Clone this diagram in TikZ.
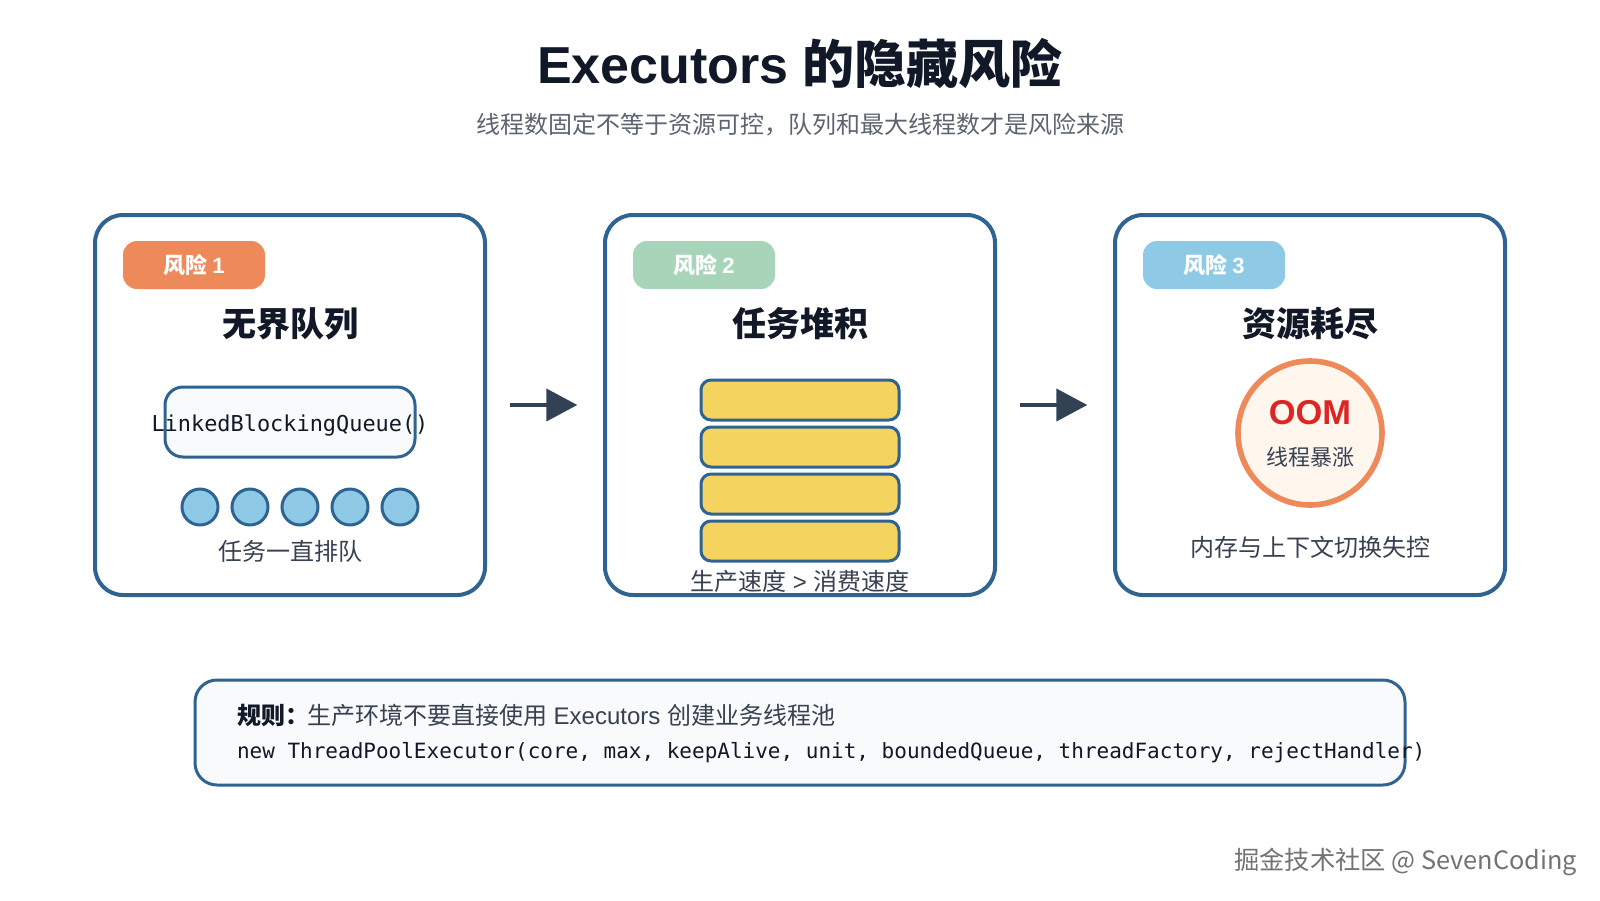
\documentclass[tikz,border=0pt]{standalone}
\usepackage{fontspec}
\usetikzlibrary{arrows.meta}
\setmainfont{Liberation Sans}
\newfontfamily\cjk{Noto Sans CJK SC}
\newfontfamily\monof{DejaVu Sans Mono}
\newcommand{\fs}[1]{\fontsize{\fpeval{#1*0.75}pt}{\fpeval{#1*0.9}pt}\selectfont}
\definecolor{cardline}{HTML}{2F6392}
\definecolor{ink}{HTML}{111827}
\definecolor{body}{HTML}{374151}
\definecolor{subtle}{HTML}{5B6470}
\definecolor{orangeb}{HTML}{EE8959}
\definecolor{greenb}{HTML}{A8D5BA}
\definecolor{blueb}{HTML}{8ECAE6}
\definecolor{paleb}{HTML}{F8FAFC}
\definecolor{stackf}{HTML}{F4D35E}
\definecolor{oomf}{HTML}{FFF7ED}
\definecolor{oomt}{HTML}{DC2626}
\definecolor{arrowc}{HTML}{334155}
\tikzset{
  x=0.75pt,y=-0.75pt,
  sz/.style 2 args={minimum width=#1*0.75pt,minimum height=#2*0.75pt},
  box/.style={rectangle,inner sep=0pt,outer sep=0pt},
  txt/.style={inner sep=0pt,outer sep=0pt,align=center},
  card/.style={box,sz={390}{380},draw=cardline,line width=3pt,rounded corners=21pt,fill=white},
  badge/.style={box,sz={142}{48},rounded corners=10.5pt,text=white,font=\fs{22}\bfseries\cjk},
  cardtitle/.style={txt,text=ink,font=\fs{34}\bfseries\cjk},
  caption/.style={txt,text=body,font=\fs{24}\cjk},
  codebox/.style={box,draw=cardline,line width=2.25pt,fill=paleb},
  dot/.style={circle,inner sep=0pt,outer sep=0pt,minimum size=27pt,draw=cardline,line width=2.25pt,fill=blueb},
  brick/.style={box,sz={198}{40},draw=cardline,line width=2.25pt,rounded corners=7.5pt,fill=stackf},
  flow/.style={draw=arrowc,line width=3pt,-{Triangle[length=23.25pt,width=24pt]}},
}
\begin{document}
\begin{tikzpicture}
\useasboundingbox[fill=white] (0,0) rectangle (1600,900);
\node[txt,text=ink,font=\fs{52}\bfseries] (title) at (800,64) {Executors {\cjk 的隐藏风险}};
\node[txt,text=subtle,font=\fs{24}\cjk] (sub) at (800,125) {线程数固定不等于资源可控，队列和最大线程数才是风险来源};

\node[card] (card1) at (290,405) {};
\node[card] (card2) at (800,405) {};
\node[card] (card3) at (1310,405) {};

\node[badge,fill=orangeb] (badge1) at (194,265) {风险 {\rmfamily 1}};
\node[badge,fill=greenb] (badge2) at (704,265) {风险 {\rmfamily 2}};
\node[badge,fill=blueb] (badge3) at (1214,265) {风险 {\rmfamily 3}};

\node[cardtitle] (t1) at (290,324) {无界队列};
\node[cardtitle] (t2) at (800,324) {任务堆积};
\node[cardtitle] (t3) at (1310,324) {资源耗尽};

\node[codebox,sz={250}{70},rounded corners=13.5pt] (queue) at (290,422) {};
\node[txt,text=ink,font=\fs{21.9}\monof] (queuetext) at (290,425.5) {LinkedBlockingQueue()};
\node[dot] (d1) at (200,507) {};
\node[dot] (d2) at (250,507) {};
\node[dot] (d3) at (300,507) {};
\node[dot] (d4) at (350,507) {};
\node[dot] (d5) at (400,507) {};
\node[caption] (c1) at (290,551) {任务一直排队};

\node[brick] (b1) at (800,400) {};
\node[brick] (b2) at (800,447) {};
\node[brick] (b3) at (800,494) {};
\node[brick] (b4) at (800,541) {};
\node[caption] (c2) at (800,581) {生产速度{\rmfamily\ >\ }消费速度};

\node[circle,inner sep=0pt,outer sep=0pt,minimum size=108pt,draw=orangeb,line width=4.2pt,fill=oomf] (oom) at (1310,433) {};
\node[txt,text=oomt,font=\fs{34.5}\bfseries] (oomt) at (1310,413) {OOM};
\node[txt,text=body,font=\fs{22}\cjk] (oomc) at (1310,457) {线程暴涨};
\node[caption] (c3) at (1310,547) {内存与上下文切换失控};

\draw[flow,shorten <=18.75pt,shorten >=20.75pt] (card1) -- (card2);
\draw[flow,shorten <=18.75pt,shorten >=20.75pt] (card2) -- (card3);

\node[codebox,sz={1210}{105},rounded corners=16.5pt] (rule) at (800,732.5) {};
\node[txt,anchor=west,text=body,font=\fs{24}] (rule1) at (237,715) {{\bfseries\cjk\color{ink}规则：}\hspace{-1.5pt}{\cjk 生产环境不要直接使用} Executors {\cjk 创建业务线程池}};
\node[txt,anchor=west,text=ink,font=\fs{21}\monof] (rule2) at (237,753) {new ThreadPoolExecutor(core, max, keepAlive, unit, boundedQueue, threadFactory, rejectHandler)};

\node[txt,anchor=east,text=black!55,font=\fs{25.3}\cjk] (mark) at (1577,862) {掘金技术社区 @ SevenCoding};
\end{tikzpicture}
\end{document}
